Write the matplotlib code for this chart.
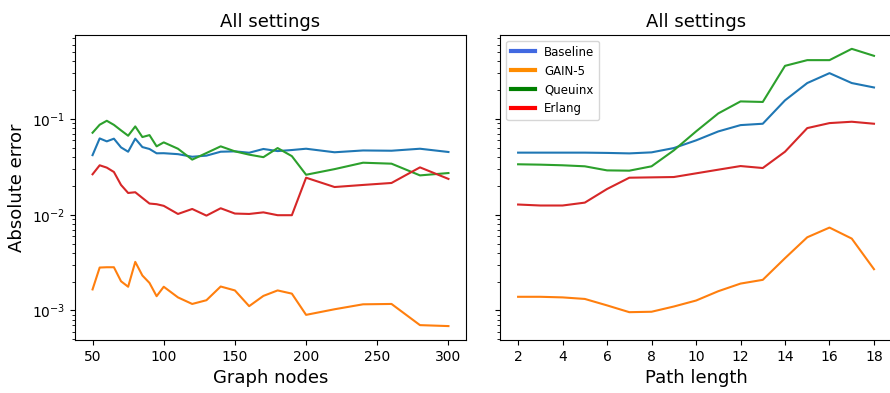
import matplotlib.pyplot as plt
from matplotlib.lines import Line2D

# error vs number of graph nodes
nodes = [50, 55, 60, 65, 70, 75, 80, 85, 90, 95, 100, 110, 120, 130, 140,
         150, 160, 170, 180, 190, 200, 220, 240, 260, 280, 300]
nodes_baseline = [0.042, 0.0628, 0.0585, 0.0624, 0.0506, 0.0456, 0.0624, 0.051, 0.0487, 0.0439,
                  0.044, 0.043, 0.0404, 0.0415, 0.0456, 0.046, 0.0445, 0.0487, 0.0463, 0.0475,
                  0.049, 0.045, 0.047, 0.0467, 0.049, 0.0453]
nodes_gain5 = [0.00166, 0.00281, 0.00283, 0.00283, 0.00202, 0.00177, 0.00322, 0.00232, 0.00194, 0.00141,
               0.00177, 0.00137, 0.00117, 0.00128, 0.00178, 0.00162, 0.00111, 0.00142, 0.00162, 0.0015,
               0.0009, 0.00103, 0.00116, 0.00117, 0.000703, 0.000687]
nodes_queuinx = [0.072, 0.0873, 0.096, 0.087, 0.0762, 0.067, 0.0838, 0.0649, 0.068, 0.0519,
                 0.0571, 0.049, 0.0377, 0.0442, 0.0519, 0.046, 0.0425, 0.040, 0.0498, 0.041,
                 0.0262, 0.030, 0.035, 0.0342, 0.0258, 0.0273]
nodes_erlang = [0.0265, 0.0329, 0.0311, 0.028, 0.0205, 0.0169, 0.0172, 0.015, 0.0131, 0.0129,
                0.0124, 0.0102, 0.0115, 0.0098, 0.0117, 0.0103, 0.0102, 0.0106, 0.0099, 0.0099,
                0.0244, 0.0195, 0.0205, 0.0215, 0.0313, 0.0237]

# error vs path length
path_len = list(range(2, 19))
path_baseline = [0.0446, 0.0446, 0.0446, 0.0446, 0.0443, 0.0438, 0.0449, 0.0498, 0.0599, 0.0743,
                 0.0865, 0.0894, 0.157, 0.238, 0.302, 0.238, 0.214]
path_gain5 = [0.00139, 0.00139, 0.00137, 0.00132, 0.00113, 0.00096, 0.00097, 0.0011, 0.00127, 0.00159,
              0.00191, 0.00209, 0.00352, 0.00582, 0.00735, 0.00564, 0.0027]
path_queuinx = [0.0337, 0.0334, 0.0329, 0.0321, 0.0291, 0.0289, 0.0321, 0.0471, 0.0743, 0.1146,
                0.153, 0.151, 0.36, 0.413, 0.413, 0.542, 0.458]
path_erlang = [0.0128, 0.0125, 0.0125, 0.0134, 0.0186, 0.0244, 0.0246, 0.0248, 0.0271, 0.0296,
               0.0323, 0.0308, 0.0456, 0.0805, 0.0908, 0.0938, 0.0894]

names = ['Baseline', 'GAIN-5', 'Queuinx', 'Erlang']
legend_colors = ['royalblue', 'darkorange', 'green', 'red']

fig, (ax1, ax2) = plt.subplots(1, 2, figsize=(8.9, 3.93), dpi=100, sharey=True)

for ys in [nodes_baseline, nodes_gain5, nodes_queuinx, nodes_erlang]:
    ax1.plot(nodes, ys)
ax1.set_yscale('log')
ax1.set_title('All settings', fontsize=13)
ax1.set_xlabel('Graph nodes', fontsize=13)
ax1.set_ylabel('Absolute error', fontsize=13)
ax1.set_xticks([50, 100, 150, 200, 250, 300])

for ys in [path_baseline, path_gain5, path_queuinx, path_erlang]:
    ax2.plot(path_len, ys)
ax2.set_title('All settings', fontsize=13)
ax2.set_xlabel('Path length', fontsize=13)
ax2.set_xticks(range(2, 19, 2))

handles = [Line2D([0], [0], color=c, lw=3) for c in legend_colors]
ax2.legend(handles, names, loc='upper left', fontsize=8.5)

plt.subplots_adjust(left=0.084, right=1.002, top=0.911, bottom=0.135, wspace=0.087)
plt.savefig('out.png')
